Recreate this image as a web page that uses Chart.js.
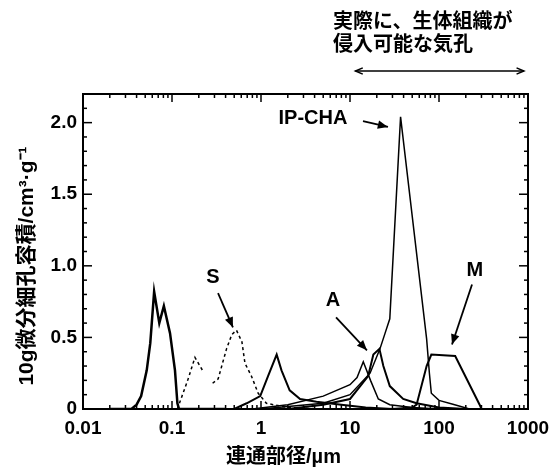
<!DOCTYPE html>
<html>
<head>
<meta charset="utf-8">
<script src="https://cdn.jsdelivr.net/npm/chart.js@4.4.0/dist/chart.umd.min.js"></script>
<style>
  html, body { margin: 0; background: #fff; }
  #wrap { width: 558px; height: 469px; }
</style>
</head>
<body>
<div id="wrap"><canvas id="chart"></canvas></div>
<script>
// 軸の目盛り
const xTicks = [0.01, 0.1, 1, 10, 100, 1000];
const yTicks = [0, 0.5, 1.0, 1.5, 2.0];

// 各試料の細孔分布 (x: 連通部径 µm, y: log微分細孔容積)
const seriesC = [
  [0.02, 0], [0.035, 0], [0.04, 0.03], [0.045, 0.09], [0.052, 0.27], [0.057, 0.46],
  [0.063, 0.82], [0.072, 0.60], [0.081, 0.72], [0.095, 0.53], [0.108, 0.27],
  [0.115, 0.04], [0.12, 0], [0.4, 0]
];
const seriesS = [
  [0.115, 0], [0.118, 0.02], [0.15, 0.2], [0.181, 0.36], [0.225, 0.26], [0.25, null],
  [0.286, 0.18], [0.33, 0.21], [0.41, 0.42], [0.47, 0.52], [0.53, 0.55], [0.61, 0.47],
  [0.66, 0.32], [0.78, 0.23], [0.93, 0.11], [1.15, 0.04], [2, 0.01], [5, 0]
];
const seriesB = [
  [0.5, 0], [0.69, 0.04], [0.98, 0.09], [1.2, 0.23], [1.5, 0.38], [1.7, 0.27],
  [2.1, 0.13], [2.75, 0.07], [4.2, 0.05], [8, 0.03], [15, 0.01], [30, 0]
];
const seriesA = [
  [0.8, 0], [2, 0.03], [5, 0.09], [10, 0.17], [12, 0.22], [14.1, 0.33], [17, 0.2],
  [20.8, 0.07], [28, 0.03], [50, 0.01], [100, 0]
];
const seriesA2 = [
  [2, 0], [5, 0.03], [10, 0.07], [16, 0.23], [18.3, 0.38], [21.4, 0.42], [23.7, 0.30],
  [28, 0.16], [39.6, 0.07], [56, 0.04], [100, 0.01], [200, 0]
];
const seriesIP = [
  [1, 0], [5, 0.04], [10, 0.1], [16.8, 0.25], [21.7, 0.42], [24.8, 0.53], [28, 0.63],
  [37, 2.04], [72.6, 0.49], [78, 0.25], [82, 0.11], [100, 0.06], [150, 0.03], [220, 0]
];
const seriesM = [
  [30, 0], [50, 0.01], [56, 0.03], [72.6, 0.30], [82, 0.38], [152, 0.37], [286, 0.03], [300, 0]
];

// 注釈: 文字位置と矢印 (データ座標)
const notes = [
  { text: 'S', at: [0.289, 0.92], from: [0.329, 0.81], to: [0.484, 0.57] },
  { text: 'A', at: [6.44, 0.76], from: [6.97, 0.64], to: [15.5, 0.41] },
  { text: 'IP-CHA', at: [3.84, 2.03], from: [14.0, 2.01], to: [26.7, 1.97] },
  { text: 'M', at: [253, 0.97], from: [235, 0.87], to: [140, 0.45] }
];

const pts = arr => arr.map(p => ({ x: p[0], y: p[1] }));
const font = { family: '"Liberation Sans", Arial, sans-serif', size: 19, weight: 'bold' };
const cjk = 'bold 20px "Liberation Sans", "Noto Sans CJK JP", sans-serif';

function line(ctx, x1, y1, x2, y2) {
  ctx.beginPath(); ctx.moveTo(x1, y1); ctx.lineTo(x2, y2); ctx.stroke();
}

function arrowHead(ctx, x1, y1, x2, y2, size, open) {
  const a = Math.atan2(y2 - y1, x2 - x1);
  ctx.beginPath();
  ctx.moveTo(x2 - size * Math.cos(a - 0.4), y2 - size * Math.sin(a - 0.4));
  ctx.lineTo(x2, y2);
  ctx.lineTo(x2 - size * Math.cos(a + 0.4), y2 - size * Math.sin(a + 0.4));
  if (open) { ctx.stroke(); } else { ctx.closePath(); ctx.fill(); }
}

const decor = {
  id: 'decor',
  afterDraw(chart) {
    const { ctx, chartArea: a, scales: { x, y } } = chart;
    ctx.save();
    ctx.strokeStyle = '#000';
    ctx.fillStyle = '#000';

    // 枠
    ctx.lineWidth = 2;
    ctx.strokeRect(a.left, a.top, a.right - a.left, a.bottom - a.top);

    // 内向きの目盛り
    ctx.lineWidth = 1.5;
    for (let d = -2; d < 3; d++) {
      for (let m = 1; m < 10; m++) {
        const px = x.getPixelForValue(m * Math.pow(10, d));
        const len = m === 1 ? 8 : 4;
        line(ctx, px, a.bottom, px, a.bottom - len);
        line(ctx, px, a.top, px, a.top + len);
      }
    }
    for (let i = 0; i <= 22; i++) {
      const py = y.getPixelForValue(i / 10);
      const len = i % 5 === 0 ? 9 : 4;
      line(ctx, a.left, py, a.left + len, py);
      line(ctx, a.right, py, a.right - len, py);
    }

    // 注釈
    ctx.font = 'bold 20px "Liberation Sans", Arial, sans-serif';
    ctx.textAlign = 'center';
    ctx.textBaseline = 'middle';
    ctx.lineWidth = 1.8;
    notes.forEach(n => {
      ctx.fillText(n.text, x.getPixelForValue(n.at[0]), y.getPixelForValue(n.at[1]));
      const x1 = x.getPixelForValue(n.from[0]), y1 = y.getPixelForValue(n.from[1]);
      const x2 = x.getPixelForValue(n.to[0]), y2 = y.getPixelForValue(n.to[1]);
      line(ctx, x1, y1, x2, y2);
      arrowHead(ctx, x1, y1, x2, y2, 11, false);
    });

    // 軸タイトル
    ctx.font = cjk;
    ctx.fillText('連通部径/µm', (a.left + a.right) / 2 - 22, 457);
    ctx.save();
    ctx.translate(27, 266);
    ctx.rotate(-Math.PI / 2);
    ctx.font = 'bold 21px "Liberation Sans", "Noto Sans CJK JP", sans-serif';
    ctx.fillText('10g微分細孔容積/cm³·g⁻¹', 0, 0);
    ctx.restore();

    // 上部の説明と両矢印
    ctx.textAlign = 'left';
    ctx.fillText('実際に、生体組織が', 333, 22);
    ctx.fillText('侵入可能な気孔', 333, 45);
    const ax1 = x.getPixelForValue(11.5), ax2 = x.getPixelForValue(900);
    ctx.lineWidth = 1.5;
    line(ctx, ax1, 71, ax2, 71);
    arrowHead(ctx, ax2, 71, ax1, 71, 8, true);
    arrowHead(ctx, ax1, 71, ax2, 71, 8, true);
    ctx.restore();
  }
};

const solid = (data) => ({
  data: pts(data), borderColor: '#000', borderWidth: 2, pointRadius: 0,
  showLine: true, fill: false, tension: 0
});

new Chart(document.getElementById('chart').getContext('2d'), {
  type: 'scatter',
  data: {
    datasets: [
      Object.assign(solid(seriesC), { borderWidth: 2.5 }),
      Object.assign(solid(seriesS), { borderWidth: 1.5, borderDash: [3, 3] }),
      solid(seriesB),
      Object.assign(solid(seriesA), { borderWidth: 1.5 }),
      solid(seriesA2),
      Object.assign(solid(seriesIP), { borderWidth: 1.5 }),
      solid(seriesM)
    ]
  },
  plugins: [decor],
  options: {
    responsive: true,
    maintainAspectRatio: false,
    animation: false,
    layout: { padding: { top: 94, right: 30, left: 0, bottom: 0 } },
    plugins: { legend: { display: false }, tooltip: { enabled: false } },
    scales: {
      x: {
        type: 'logarithmic', min: 0.01, max: 1000,
        afterBuildTicks: s => { s.ticks = xTicks.map(v => ({ value: v })); },
        afterFit: s => { s.height = 60; },
        grid: { display: false, drawTicks: false },
        border: { display: false },
        ticks: {
          color: '#000', font: font, padding: 8, autoSkip: false, maxRotation: 0,
          callback: v => String(v)
        }
      },
      y: {
        min: 0, max: 2.2,
        afterBuildTicks: s => { s.ticks = yTicks.map(v => ({ value: v })); },
        afterFit: s => { s.width = 83; },
        grid: { display: false, drawTicks: false },
        border: { display: false },
        ticks: {
          color: '#000', font: font, padding: 6,
          callback: v => v === 0 ? '0' : v.toFixed(1)
        }
      }
    }
  }
});
</script>
</body>
</html>
